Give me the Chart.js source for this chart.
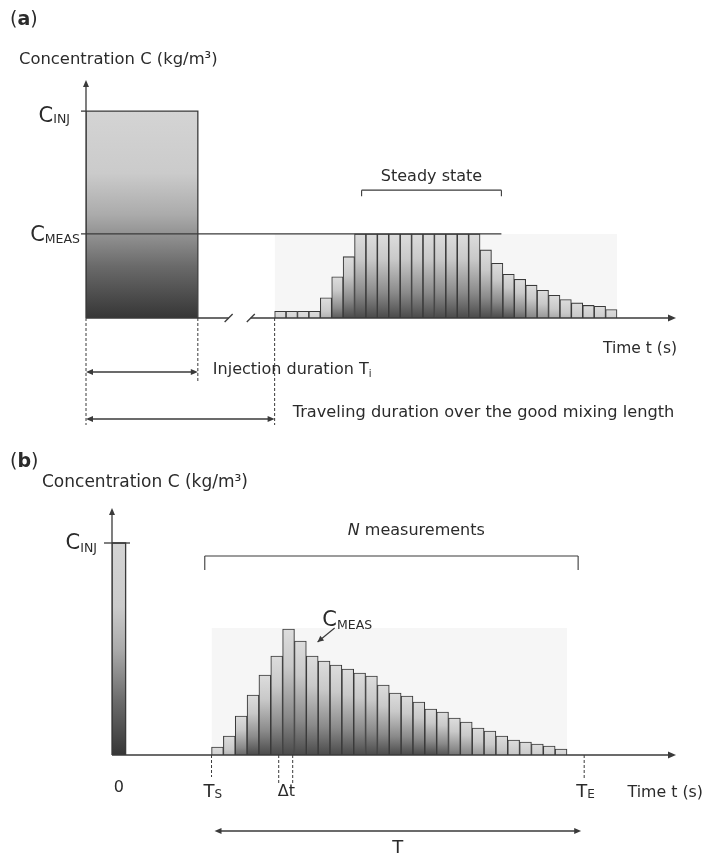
<!DOCTYPE html>
<html>
<head>
<meta charset="utf-8">
<title>Tracer concentration</title>
<script src="https://cdn.jsdelivr.net/npm/chart.js@4.4.1/dist/chart.umd.min.js"></script>
<style>
  html, body { margin: 0; padding: 0; background: #fff; }
  #wrap { position: relative; width: 704px; height: 854px; }
  #chartA { position: absolute; left: 0; top: 0; }
  #chartB { position: absolute; left: 0; top: 430px; }
</style>
</head>
<body>
<div id="wrap">
  <canvas id="chartA" width="704" height="430"></canvas>
  <canvas id="chartB" width="704" height="424"></canvas>
</div>
<script>
// ---------- panel (a): continuous injection, concentrations relative to C_MEAS ----------
const measA = [0.08, 0.08, 0.08, 0.08, 0.24, 0.49, 0.73,
  1, 1, 1, 1, 1, 1, 1, 1, 1, 1, 1,
  0.81, 0.65, 0.52, 0.46, 0.39, 0.33, 0.27, 0.22, 0.18, 0.15, 0.14, 0.10];
const cInjA = 2.46;
const cMeasA = 1.0;
const yMaxA = 2.83;
// time axis in units of one sampling step
const tiA = 9.8;            // injection duration
const tStartA = 16.53;      // arrival at the measuring section
const xMaxA = 51.7;
const breakA = [12.5, 14.44];
const steadyA = [24.15, 36.4];
const steadyLevelA = 1.52;

// ---------- panel (b): sudden injection ----------
const measB = [0.8, 1.9, 3.9, 6.0, 8.0, 9.9, 12.6, 11.4, 9.9, 9.4, 9.0, 8.6, 8.2, 7.9, 7.0,
  6.2, 5.9, 5.3, 4.6, 4.3, 3.7, 3.3, 2.7, 2.4, 1.9, 1.5, 1.3, 1.1, 0.9, 0.6];
const cInjB = 21.2;
const yMaxB = 24.7;
const tiB = 1.15;
const tSB = 8.4;
const tEB = 39.85;
const xMaxB = 47.6;
const dtB = [14.07, 15.25];
const nBracketB = [7.83, 39.34];
const nLevelB = 19.9;
const nTextXB = 19.9;
const cMeasArrowB = [[18.79, 12.7], [17.35, 11.3]];
const cMeasLabelB = [17.75, 12.9];

const FONT = "'DejaVu Sans', Verdana, sans-serif";
const INK = '#3a3a3a';
const TXT = '#2b2b2b';

// ---------- helpers ----------
function seg(ctx, x1, y1, x2, y2, dash) {
  ctx.save();
  if (dash) ctx.setLineDash(dash);
  ctx.beginPath();
  ctx.moveTo(x1, y1);
  ctx.lineTo(x2, y2);
  ctx.stroke();
  ctx.restore();
}
function arrowHead(ctx, x, y, dx, dy, len, half) {
  len = len || 7; half = half || 3;
  ctx.beginPath();
  ctx.moveTo(x, y);
  ctx.lineTo(x - dx * len - dy * half, y - dy * len + dx * half);
  ctx.lineTo(x - dx * len + dy * half, y - dy * len - dx * half);
  ctx.closePath();
  ctx.fill();
}
function dblArrow(ctx, x1, x2, y) {
  seg(ctx, x1 + 3, y, x2 - 3, y);
  arrowHead(ctx, x1, y, -1, 0, 7, 3);
  arrowHead(ctx, x2, y, 1, 0, 7, 3);
}
function text(ctx, s, x, y, size, align, extra) {
  ctx.font = (extra ? extra + ' ' : '') + size + 'px ' + FONT;
  ctx.textAlign = align || 'left';
  ctx.textBaseline = 'alphabetic';
  ctx.fillText(s, x, y);
}
// main letter followed by a subscript
function subText(ctx, x, y, main, sub, size, subSize, align, subDrop) {
  ctx.font = size + 'px ' + FONT;
  const w1 = ctx.measureText(main).width;
  ctx.font = subSize + 'px ' + FONT;
  const w2 = ctx.measureText(sub).width;
  let x0 = x;
  if (align === 'right') x0 = x - w1 - w2;
  else if (align === 'center') x0 = x - (w1 + w2) / 2;
  text(ctx, main, x0, y, size);
  text(ctx, sub, x0 + w1, y + (subDrop || 3), subSize);
}
function panelTag(ctx, letter, x, y) {
  ctx.font = '19px ' + FONT;
  const w1 = ctx.measureText('(').width;
  ctx.font = 'bold 19px ' + FONT;
  const w2 = ctx.measureText(letter).width;
  text(ctx, '(', x, y, 19);
  text(ctx, letter, x + w1, y, 19, 'left', 'bold');
  text(ctx, ')', x + w1 + w2, y, 19);
}
function barFill(c) {
  const chart = c.chart;
  if (!chart.chartArea || c.type !== 'data') return '#c8c8c8';
  const ys = chart.scales.y;
  const top = ys.getPixelForValue(c.raw.y);
  const bot = ys.getPixelForValue(0);
  const len = Math.max(bot - top, 45);
  const g = chart.ctx.createLinearGradient(0, top, 0, top + len);
  g.addColorStop(0, '#dddddd');
  g.addColorStop(0.3, '#c9c9c9');
  g.addColorStop(0.7, '#8a8a8a');
  g.addColorStop(1, '#4a4a4a');
  return g;
}
function blockFill(level) {
  return function (c) {
    const chart = c.chart;
    if (!chart.chartArea) return '#999';
    const ys = chart.scales.y;
    const g = chart.ctx.createLinearGradient(0, ys.getPixelForValue(level), 0, ys.getPixelForValue(0));
    g.addColorStop(0, '#d4d4d4');
    g.addColorStop(0.3, '#cbcbcb');
    g.addColorStop(0.5, '#ababab');
    g.addColorStop(0.75, '#6a6a6a');
    g.addColorStop(1, '#363636');
    return g;
  };
}
function rectPts(x1, x2, h) {
  return [{x: x1, y: 0}, {x: x1, y: h}, {x: x2, y: h}, {x: x2, y: 0}];
}
function baseOptions(xMax, yMax, pad) {
  return {
    responsive: false,
    animation: false,
    events: [],
    layout: { padding: pad },
    plugins: { legend: { display: false }, tooltip: { enabled: false } },
    scales: {
      x: { type: 'linear', min: 0, max: xMax, offset: false, display: false, ticks: { stepSize: 5 } },
      y: { type: 'linear', min: 0, max: yMax, display: false }
    }
  };
}
function datasets(meas, tStart, cInj, ti, bgTop) {
  return [
    {
      type: 'bar',
      data: meas.map((v, i) => ({ x: tStart + i + 0.5, y: v })),
      backgroundColor: barFill,
      borderColor: INK,
      borderWidth: 1.1,
      barPercentage: 1,
      categoryPercentage: 1,
      grouped: false,
      order: 1
    },
    {
      type: 'line',
      data: rectPts(0, ti, cInj),
      borderColor: INK,
      borderWidth: 1.3,
      pointRadius: 0,
      tension: 0,
      fill: 'origin',
      backgroundColor: blockFill(cInj),
      order: 2
    },
    {
      type: 'line',
      data: rectPts(tStart, tStart + meas.length, bgTop),
      borderWidth: 0,
      borderColor: 'rgba(0,0,0,0)',
      pointRadius: 0,
      tension: 0,
      fill: 'origin',
      backgroundColor: '#f6f6f6',
      order: 3
    }
  ];
}

// ---------- panel (a) annotations ----------
const drawA = {
  id: 'drawA',
  afterDatasetsDraw(chart) {
    const { ctx, chartArea: area } = chart;
    const xs = chart.scales.x, ys = chart.scales.y;
    const px = v => xs.getPixelForValue(v), py = v => ys.getPixelForValue(v);
    const base = py(0), x0 = px(0);
    ctx.save();
    ctx.strokeStyle = INK; ctx.fillStyle = INK; ctx.lineWidth = 1.3;
    // axes
    seg(ctx, x0, base, x0, area.top + 4);
    arrowHead(ctx, x0, area.top, 0, -1, 7, 3);
    seg(ctx, x0, base, px(breakA[0]), base);
    seg(ctx, px(breakA[1]), base, area.right - 4, base);
    arrowHead(ctx, area.right, base, 1, 0, 8, 3.5);
    breakA.forEach(b => seg(ctx, px(b) - 4, base + 4, px(b) + 4, base - 4));
    // concentration levels
    seg(ctx, x0 - 5, py(cInjA), x0, py(cInjA));
    seg(ctx, x0 - 5, py(cMeasA), px(steadyA[1]), py(cMeasA));
    // steady state bracket
    const yb = py(steadyLevelA);
    ctx.lineWidth = 1.1;
    seg(ctx, px(steadyA[0]), yb + 6, px(steadyA[0]), yb);
    seg(ctx, px(steadyA[0]), yb, px(steadyA[1]), yb);
    seg(ctx, px(steadyA[1]), yb, px(steadyA[1]), yb + 6);
    // guide lines and durations
    ctx.lineWidth = 1;
    seg(ctx, x0, base, x0, base + 107, [3, 2]);
    seg(ctx, px(tiA), base, px(tiA), base + 65, [3, 2]);
    seg(ctx, px(tStartA), base, px(tStartA), base + 107, [3, 2]);
    ctx.lineWidth = 1.3;
    dblArrow(ctx, x0, px(tiA), base + 54);
    dblArrow(ctx, x0, px(tStartA), base + 101);
    // texts
    ctx.fillStyle = TXT;
    panelTag(ctx, 'a', 10, 25);
    text(ctx, 'Concentration C (kg/m³)', 19, 64, 16.4);
    subText(ctx, x0 - 16, py(cInjA) + 11, 'C', 'INJ', 21, 12.5, 'right', 1);
    subText(ctx, x0 - 6, py(cMeasA) + 7, 'C', 'MEAS', 21, 12.5, 'right', 2);
    text(ctx, 'Steady state', (px(steadyA[0]) + px(steadyA[1])) / 2, yb - 9, 16, 'center');
    text(ctx, 'Time t (s)', area.right + 1, base + 35, 15.5, 'right');
    subText(ctx, px(tiA) + 15, base + 56, 'Injection duration T', 'i', 16, 10, 'left', 3);
    text(ctx, 'Traveling duration over the good mixing length', px(tStartA) + 18, base + 99, 16.2);
    ctx.restore();
  }
};

// ---------- panel (b) annotations ----------
const drawB = {
  id: 'drawB',
  afterDatasetsDraw(chart) {
    const { ctx, chartArea: area } = chart;
    const xs = chart.scales.x, ys = chart.scales.y;
    const px = v => xs.getPixelForValue(v), py = v => ys.getPixelForValue(v);
    const base = py(0), x0 = px(0);
    ctx.save();
    ctx.strokeStyle = INK; ctx.fillStyle = INK; ctx.lineWidth = 1.3;
    // axes
    seg(ctx, x0, base, x0, area.top + 4);
    arrowHead(ctx, x0, area.top, 0, -1, 7, 3);
    seg(ctx, x0, base, area.right - 4, base);
    arrowHead(ctx, area.right, base, 1, 0, 8, 3.5);
    seg(ctx, x0 - 8, py(cInjB), x0 + 18, py(cInjB));
    // N measurements bracket
    const yn = py(nLevelB);
    ctx.lineWidth = 1.1;
    seg(ctx, px(nBracketB[0]), yn + 14, px(nBracketB[0]), yn);
    seg(ctx, px(nBracketB[0]), yn, px(nBracketB[1]), yn);
    seg(ctx, px(nBracketB[1]), yn, px(nBracketB[1]), yn + 14);
    // C_MEAS pointer
    const a0 = cMeasArrowB[0], a1 = cMeasArrowB[1];
    const ax0 = px(a0[0]), ay0 = py(a0[1]), ax1 = px(a1[0]), ay1 = py(a1[1]);
    seg(ctx, ax0, ay0, ax1, ay1);
    const L = Math.hypot(ax1 - ax0, ay1 - ay0);
    arrowHead(ctx, ax1, ay1, (ax1 - ax0) / L, (ay1 - ay0) / L, 6, 3);
    // guide lines
    ctx.lineWidth = 1;
    seg(ctx, px(tSB), base, px(tSB), base + 22, [3, 2]);
    seg(ctx, px(dtB[0]), base, px(dtB[0]), base + 28, [3, 2]);
    seg(ctx, px(dtB[1]), base, px(dtB[1]), base + 28, [3, 2]);
    seg(ctx, px(tEB), base, px(tEB), base + 23, [3, 2]);
    ctx.lineWidth = 1.3;
    dblArrow(ctx, px(tSB) + 3, px(tEB) - 3, base + 76);
    // texts
    ctx.fillStyle = TXT;
    panelTag(ctx, 'b', 10, 37);
    text(ctx, 'Concentration C (kg/m³)', 42, 57, 17);
    subText(ctx, x0 - 15, py(cInjB) + 6, 'C', 'INJ', 21, 12.5, 'right', 3);
    subText(ctx, px(cMeasLabelB[0]), py(cMeasLabelB[1]), 'C', 'MEAS', 21, 12.5, 'left', 3);
    text(ctx, 'N', px(nTextXB), yn - 21, 16, 'left', 'italic');
    ctx.font = 'italic 16px ' + FONT;
    const wN = ctx.measureText('N ').width;
    text(ctx, 'measurements', px(nTextXB) + wN, yn - 21, 16);
    text(ctx, '0', px(tiB / 2), base + 37, 16, 'center');
    subText(ctx, px(tSB) - 8, base + 42, 'T', 'S', 18, 12, 'left', 1);
    text(ctx, '\u0394t', px(dtB[0]) - 1, base + 41, 16);
    subText(ctx, px(tEB) - 8, base + 42, 'T', 'E', 18, 12, 'left', 1);
    text(ctx, 'Time t (s)', chart.width - 1, base + 42, 15.8, 'right');
    text(ctx, 'T', (px(tSB) + px(tEB)) / 2, base + 98, 18, 'center');
    ctx.restore();
  }
};

new Chart(document.getElementById('chartA'), {
  type: 'bar',
  data: { datasets: datasets(measA, tStartA, cInjA, tiA, cMeasA) },
  options: baseOptions(xMaxA, yMaxA, { left: 86, right: 28, top: 80, bottom: 112 }),
  plugins: [drawA]
});

new Chart(document.getElementById('chartB'), {
  type: 'bar',
  data: { datasets: datasets(measB, tSB, cInjB, tiB, Math.max(...measB) + 0.1) },
  options: baseOptions(xMaxB, yMaxB, { left: 112, right: 28, top: 78, bottom: 99 }),
  plugins: [drawB]
});
</script>
</body>
</html>
